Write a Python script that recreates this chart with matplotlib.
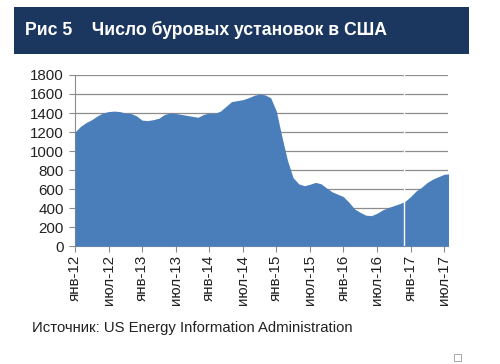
import numpy as np
import matplotlib.pyplot as plt
import matplotlib.patches as mpatches
import pandas as pd

plt.rcParams['font.family'] = ['Liberation Sans', 'DejaVu Sans']

# US oil rig count, month starts Jan-2012 .. Aug-2017
rigs_2012 = [1200, 1260, 1300, 1330, 1370, 1400, 1415, 1420, 1415, 1400, 1395, 1370]
rigs_2013 = [1325, 1320, 1330, 1345, 1385, 1400, 1395, 1385, 1375, 1365, 1355, 1385]
rigs_2014 = [1400, 1395, 1420, 1470, 1520, 1530, 1540, 1560, 1585, 1600, 1590, 1560]
rigs_2015 = [1420, 1150, 900, 720, 655, 635, 650, 670, 655, 610, 570, 545]
rigs_2016 = [520, 460, 390, 355, 325, 320, 345, 380, 405, 425, 445, 470]
rigs_2017 = [520, 580, 620, 670, 705, 730, 755, 760]
rigs = np.array(rigs_2012 + rigs_2013 + rigs_2014 + rigs_2015 + rigs_2016 + rigs_2017)
month_idx = np.arange(len(rigs))

# missing week in the series (late Nov 2016), in months from Jan-2012
gap_month = 58.85

tick_labels = ['янв-12', 'июл-12', 'янв-13', 'июл-13', 'янв-14', 'июл-14',
               'янв-15', 'июл-15', 'янв-16', 'июл-16', 'янв-17', 'июл-17']
tick_pos = np.arange(len(tick_labels)) * 6

title = 'Рис 5    Число буровых установок в США'
source = 'Источник: US Energy Information Administration'

fig = plt.figure(figsize=(5, 3.64), dpi=100)
fig.patch.set_facecolor('white')

# header bar
fig.patches.append(mpatches.Rectangle((0.028, 0.852), 0.91, 0.129,
                                      transform=fig.transFigure,
                                      facecolor='#1b365f', edgecolor='none'))
fig.text(0.05, 0.917, title, color='white', fontsize=12.7, fontweight='bold',
         va='center', ha='left')

ax = fig.add_axes([0.15, 0.324, 0.746, 0.47])
ax.fill_between(month_idx, 0, rigs, color='#4a7ebb', linewidth=0, zorder=3)
ax.axvline(gap_month, color='white', lw=1.0, zorder=4)

ax.set_xlim(0, 66.7)
ax.set_ylim(0, 1800)
ax.set_yticks(np.arange(0, 1801, 200))
ax.yaxis.grid(True, color='#8c8c8c', lw=0.9, zorder=0)
ax.set_axisbelow(True)

ax.set_xticks(tick_pos)
ax.set_xticklabels(tick_labels, rotation=90)
ax.tick_params(axis='both', labelsize=10.9, colors='#222222', length=4,
               color='#8c8c8c', pad=2.5)
ax.tick_params(axis='y', pad=4)

for s in ['top', 'right']:
    ax.spines[s].set_visible(False)
for s in ['left', 'bottom']:
    ax.spines[s].set_color('#8c8c8c')

fig.text(0.064, 0.098, source, fontsize=10.7, color='#222222', va='center')

# small checkbox glyph bottom right
fig.patches.append(mpatches.Rectangle((0.908, 0.008), 0.014, 0.02,
                                      transform=fig.transFigure,
                                      facecolor='white', edgecolor='#999999', lw=0.6))

fig.savefig('out.png', dpi=100)
